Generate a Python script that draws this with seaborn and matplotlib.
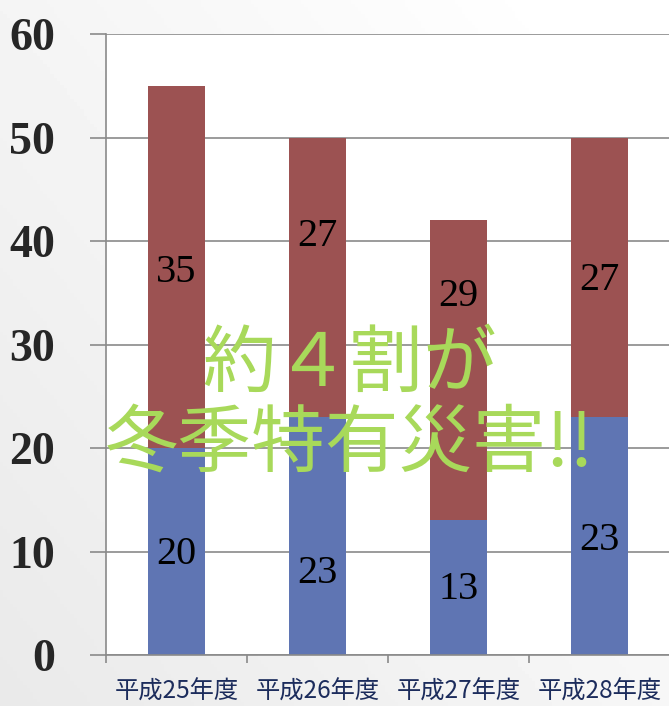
import matplotlib
matplotlib.use("Agg")
import numpy as np
import pandas as pd
import matplotlib.pyplot as plt
import seaborn as sns

years = ["平成25年度", "平成26年度", "平成27年度", "平成28年度"]
winter_specific = [20, 23, 13, 23]
other_disasters = [35, 27, 29, 27]

# y value at which each number is written inside its bar
label_y_winter = [9.7, 7.9, 6.3, 11.1]
label_y_other = [37.0, 40.4, 34.6, 36.2]

blue = "#5f75b3"
red = "#9c5252"
grey = "#8a8a8a"

sns.set_style("white")
plt.rcParams["font.family"] = ["Noto Sans CJK JP", "DejaVu Sans"]

df = pd.DataFrame({
    "year": years,
    "winter": winter_specific,
    "total": np.add(winter_specific, other_disasters),
})

fig = plt.figure(figsize=(6.69, 7.06), dpi=100)

# light grey gradient behind everything
bg = fig.add_axes([0, 0, 1, 1], zorder=-10)
gx, gy = np.meshgrid(np.linspace(0, 1, 200), np.linspace(1, 0, 200))
shade = 0.915 + 0.085 * np.clip(0.6 * gx + 0.5 * gy, 0, 1)
bg.imshow(shade, cmap="gray", vmin=0, vmax=1, aspect="auto", extent=[0, 1, 0, 1])
bg.axis("off")

ax = fig.add_axes([0.1585, 0.0722, 0.8430, 0.8796])
ax.set_facecolor("white")

# stacked bars: total (red) first, then the blue part on top of it
sns.barplot(data=df, x="year", y="total", color=red, width=0.4,
            saturation=1, linewidth=0, ax=ax)
sns.barplot(data=df, x="year", y="winter", color=blue, width=0.4,
            saturation=1, linewidth=0, ax=ax)

for i in range(len(years)):
    ax.text(i, label_y_winter[i], str(winter_specific[i]), ha="center", va="center",
            fontsize=29, family="Liberation Serif", color="black")
    ax.text(i, label_y_other[i], str(other_disasters[i]), ha="center", va="center",
            fontsize=29, family="Liberation Serif", color="black")

ax.set_xlim(-0.5, len(years) - 0.5)
ax.set_ylim(0, 60)
ax.set_xlabel("")
ax.set_ylabel("")

# y axis
ax.set_yticks(range(0, 61, 10))
ax.set_yticklabels([str(v) for v in range(0, 61, 10)],
                   fontdict={"family": "Liberation Serif", "weight": "bold", "size": 33})
ax.tick_params(axis="y", length=11.5, width=1.2, color=grey, pad=25, left=True)
ax.yaxis.grid(True, color=grey, linewidth=1.2)
ax.set_axisbelow(True)

# x axis: tick marks between categories, labels under bars
ax.set_xticks(np.arange(-0.5, len(years), 1.0))
ax.set_xticklabels([])
ax.set_xticks(range(len(years)), minor=True)
ax.set_xticklabels(years, minor=True, fontsize=17.5, color="#1c2c5c")
ax.tick_params(axis="x", which="major", length=6, width=1.2, color=grey, bottom=True)
ax.tick_params(axis="x", which="minor", length=0, pad=17)

for side in ["top", "right"]:
    ax.spines[side].set_visible(False)
for side in ["left", "bottom"]:
    ax.spines[side].set_color(grey)
    ax.spines[side].set_linewidth(1.2)

# overlay message
fig.text(0.523, 0.483, "約４割が", ha="center", va="center",
         fontsize=53, color="#a8d95a", style="italic")
fig.text(0.522, 0.370, "冬季特有災害!!", ha="center", va="center",
         fontsize=53, color="#a8d95a", style="italic")

fig.savefig("out.png", dpi=100)
